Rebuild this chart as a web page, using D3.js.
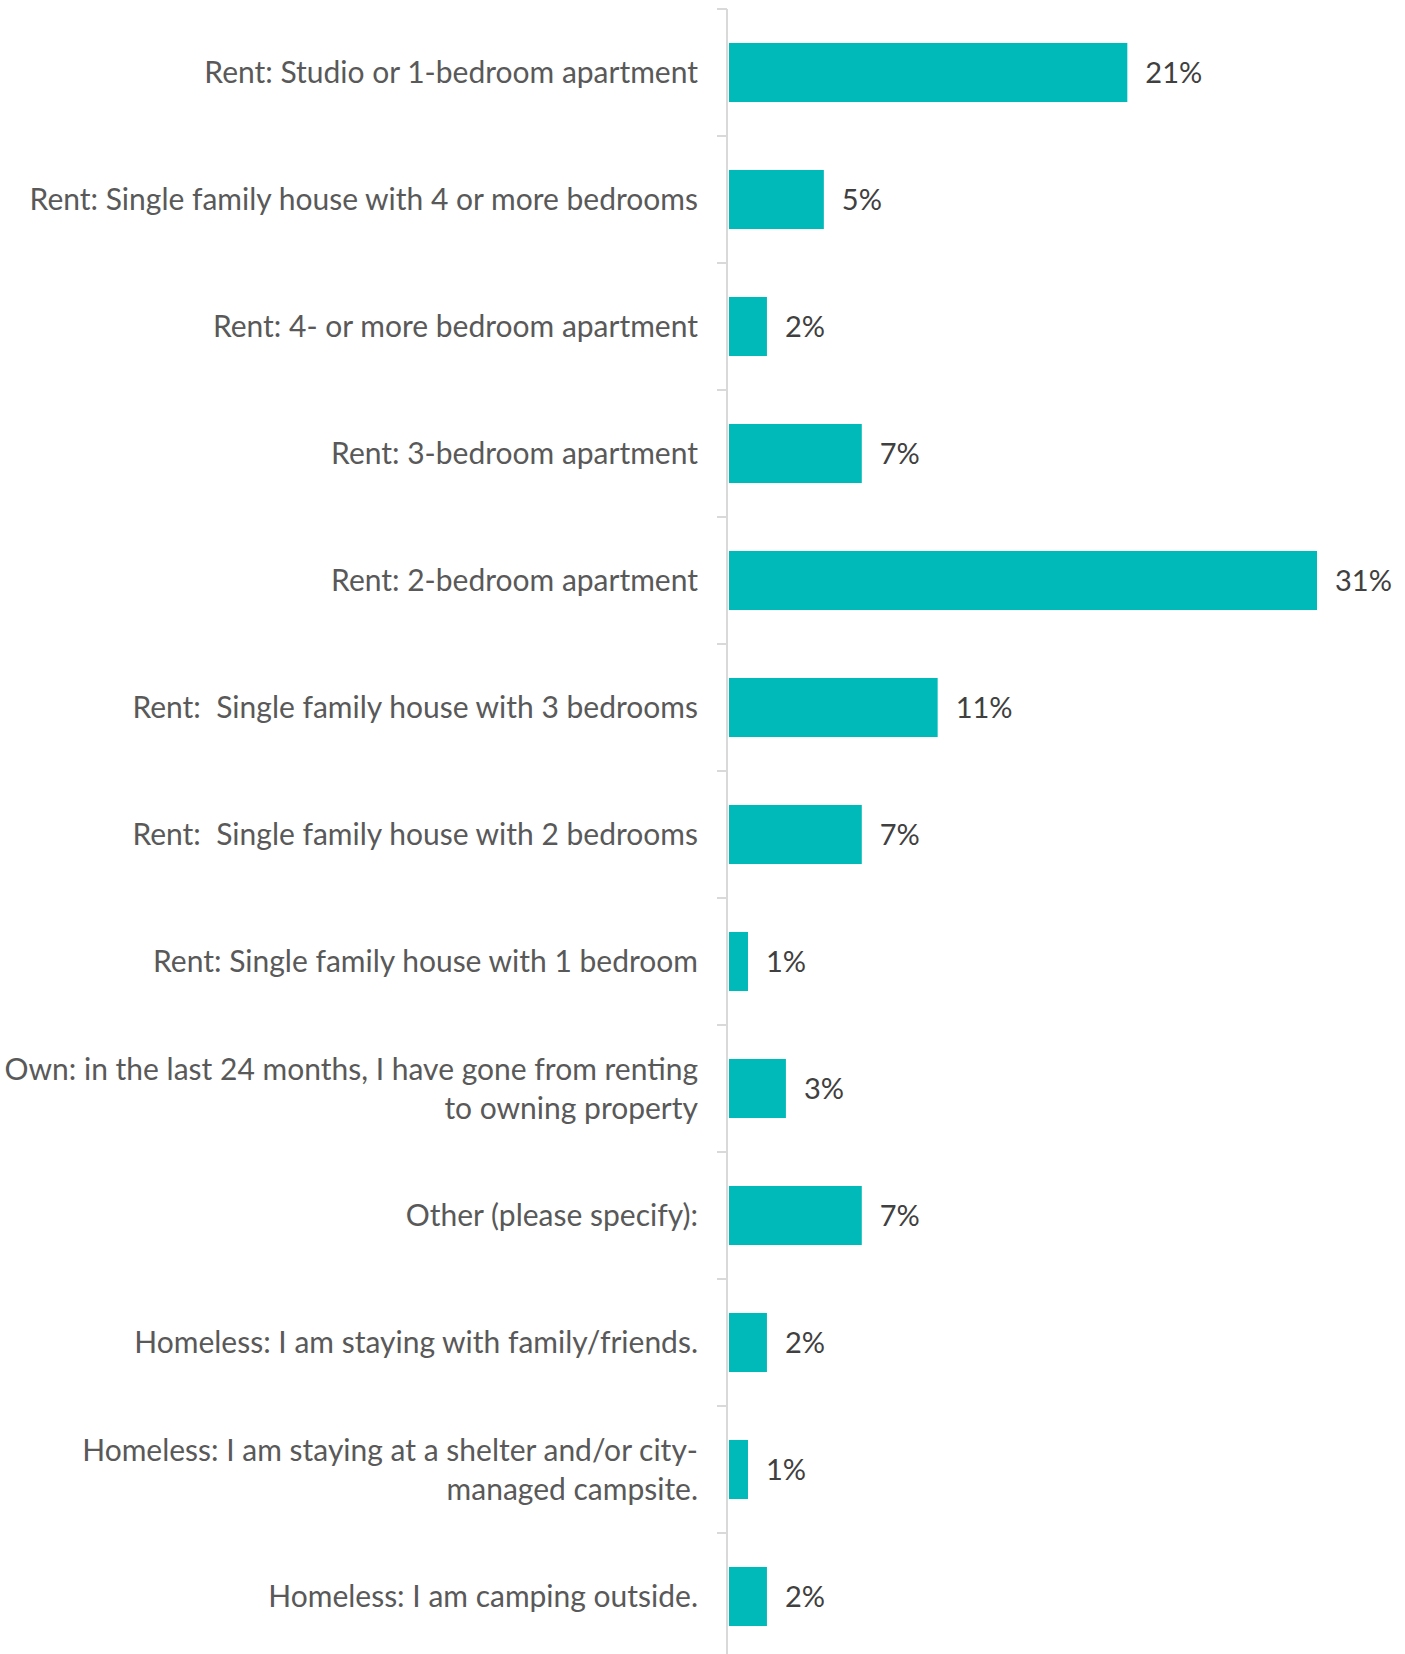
<!DOCTYPE html>
<html>
<head>
<meta charset="utf-8">
<script src="https://cdn.jsdelivr.net/npm/d3@7"></script>
<style>
  html, body { margin: 0; padding: 0; background: #fff; }
  svg { display: block; }
</style>
</head>
<body>
<script>
// Housing situation responses (share of respondents, %)
const categories = [
  "Rent: Studio or 1-bedroom apartment",
  "Rent: Single family house with 4 or more bedrooms",
  "Rent: 4- or more bedroom apartment",
  "Rent: 3-bedroom apartment",
  "Rent: 2-bedroom apartment",
  "Rent:  Single family house with 3 bedrooms",
  "Rent:  Single family house with 2 bedrooms",
  "Rent: Single family house with 1 bedroom",
  "Own: in the last 24 months, I have gone from renting\nto owning property",
  "Other (please specify):",
  "Homeless: I am staying with family/friends.",
  "Homeless: I am staying at a shelter and/or city-\nmanaged campsite.",
  "Homeless: I am camping outside."
];
const values = [21, 5, 2, 7, 31, 11, 7, 1, 3, 7, 2, 1, 2];
const valueLabels = ["21%", "5%", "2%", "7%", "31%", "11%", "7%", "1%", "3%", "7%", "2%", "1%", "2%"];

const W = 1405, H = 1654;
const axisX = 727, plotTop = 9, step = 127;
const fontFamily = "Lato, 'Open Sans', sans-serif";
const labelSize = 30, valueSize = 29;

const svg = d3.select("body").append("svg")
  .attr("width", W).attr("height", H);

const y = d3.scaleBand()
  .domain(categories)
  .range([plotTop, plotTop + step * categories.length])
  .paddingInner(0.535)
  .paddingOuter(0.2675);

const x = d3.scaleLinear()
  .domain([0, 31])
  .range([729, 1317]);

// Category axis: vertical rule with ticks at band boundaries
const axisG = svg.append("g");
axisG.append("line")
  .attr("x1", axisX).attr("x2", axisX)
  .attr("y1", plotTop).attr("y2", H)
  .attr("stroke", "#d9d9d9").attr("stroke-width", 2);

const boundaries = d3.range(categories.length).map(i => y.range()[0] + i * y.step());
axisG.selectAll("line.tick")
  .data(boundaries)
  .join("line")
  .attr("class", "tick")
  .attr("x1", axisX - 10).attr("x2", axisX)
  .attr("y1", d => d).attr("y2", d => d)
  .attr("stroke", "#d9d9d9").attr("stroke-width", 2);

// Bars
svg.append("g").selectAll("rect")
  .data(values)
  .join("rect")
  .attr("x", x(0))
  .attr("y", (d, i) => y(categories[i]))
  .attr("width", d => x(d) - x(0))
  .attr("height", y.bandwidth())
  .attr("fill", "#00b9b9");

// Value labels
svg.append("g").selectAll("text")
  .data(values)
  .join("text")
  .attr("x", d => x(d) + 18)
  .attr("y", (d, i) => y(categories[i]) + y.bandwidth() / 2)
  .attr("dy", "0.36em")
  .attr("font-family", fontFamily)
  .attr("font-size", valueSize)
  .attr("fill", "#404040")
  .text((d, i) => valueLabels[i]);

// Category labels, right aligned, wrapped where needed
const lineH = 39;
const labels = svg.append("g").selectAll("text")
  .data(categories)
  .join("text")
  .attr("x", 698)
  .attr("y", d => y(d) + y.bandwidth() / 2)
  .attr("text-anchor", "end")
  .attr("font-family", fontFamily)
  .attr("font-size", labelSize)
  .attr("fill", "#595959")
  .style("white-space", "pre");

labels.each(function(d) {
  const lines = d.split("\n");
  const t = d3.select(this);
  const off = -(lines.length - 1) / 2 * lineH;
  lines.forEach((ln, k) => {
    t.append("tspan")
      .attr("x", 698)
      .attr("dy", k === 0 ? (off + 0.36 * labelSize) : lineH)
      .text(ln);
  });
});
</script>
</body>
</html>
